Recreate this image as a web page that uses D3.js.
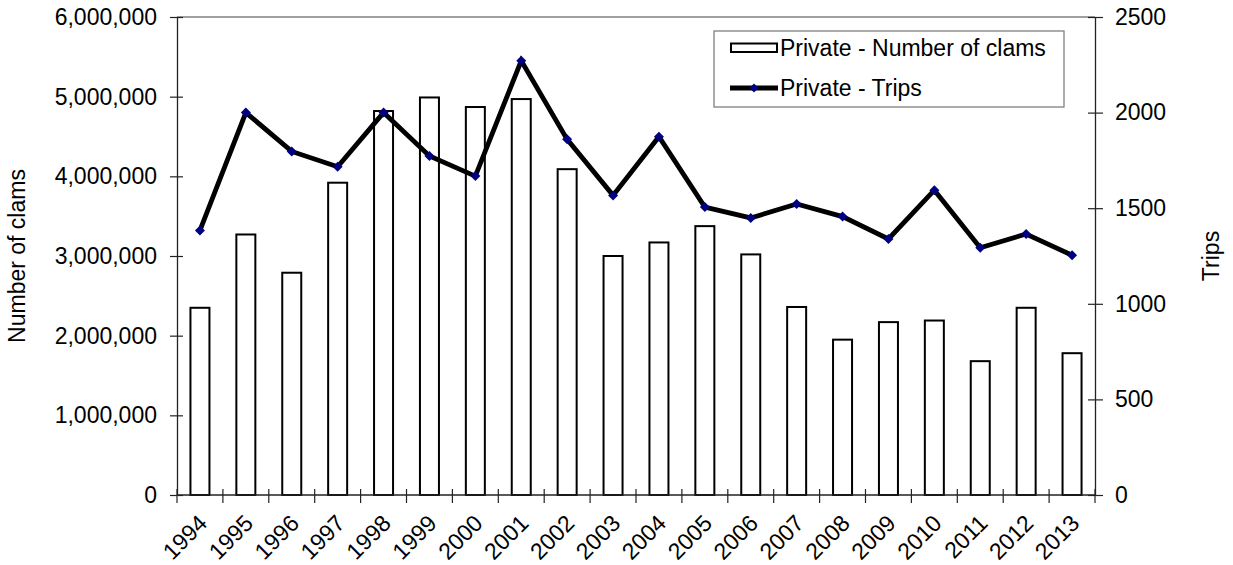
<!DOCTYPE html>
<html>
<head>
<meta charset="utf-8">
<script src="https://cdn.jsdelivr.net/npm/d3@7"></script>
<style>
  html, body { margin: 0; padding: 0; background: #fff; }
  svg { display: block; font-family: Arial, "Liberation Sans", sans-serif; }
</style>
</head>
<body>
<svg id="chart" width="1233" height="565"></svg>
<script>
const years = ["1994","1995","1996","1997","1998","1999","2000","2001","2002","2003","2004","2005","2006","2007","2008","2009","2010","2011","2012","2013"];
const clams = [2350000,3270000,2790000,3920000,4820000,4990000,4870000,4970000,4090000,3000000,3170000,3375000,3020000,2360000,1950000,2170000,2190000,1680000,2350000,1780000];
const trips = [1384,2000,1797,1717,2000,1773,1668,2271,1860,1567,1874,1506,1449,1522,1456,1339,1594,1293,1365,1254];
const leftTicks = [0,1000000,2000000,3000000,4000000,5000000,6000000];
const rightTicks = [0,500,1000,1500,2000,2500];
const seriesNames = ["Private - Number of clams","Private - Trips"];
const axisTitles = ["Number of clams","Trips"];

const W = 1233, H = 565;
const m = {left: 177, right: 138, top: 17, bottom: 70};
const x0 = m.left, x1 = W - m.right, y0 = H - m.bottom, y1 = m.top;
const fs = 23;
const ff = "Arial, 'Liberation Sans', sans-serif";

const svg = d3.select("#chart");

const x = d3.scaleBand().domain(years).range([x0, x1]).paddingInner(0).paddingOuter(0);
const yL = d3.scaleLinear().domain([0, 6000000]).range([y0, y1]);
const yR = d3.scaleLinear().domain([0, 2500]).range([y0, y1]);

// top border of plot area
svg.append("line").attr("x1", x0).attr("x2", x1).attr("y1", y1).attr("y2", y1)
  .attr("stroke", "#808080").attr("stroke-width", 1.3);

// bars
const barW = 19;
svg.append("g").selectAll("rect").data(years).join("rect")
  .attr("x", d => x(d) + x.bandwidth()/2 - barW/2)
  .attr("y", (d,i) => yL(clams[i]))
  .attr("width", barW)
  .attr("height", (d,i) => y0 - yL(clams[i]))
  .attr("fill", "#fff").attr("stroke", "#000").attr("stroke-width", 2);

// left axis
const fmt = d3.format(",");
const gL = svg.append("g").attr("transform", `translate(${x0},0)`)
  .call(d3.axisLeft(yL).tickValues(leftTicks).tickFormat(fmt).tickSize(7).tickSizeOuter(0).tickPadding(13));
gL.select(".domain").attr("stroke", "#222").attr("stroke-width", 1.3);
gL.selectAll(".tick line").attr("x2", 6).attr("x1", -7).attr("stroke", "#222").attr("stroke-width", 1.2);
gL.selectAll(".tick text").attr("font-size", fs).attr("fill", "#000").attr("font-family", ff);

// right axis
const gR = svg.append("g").attr("transform", `translate(${x1},0)`)
  .call(d3.axisRight(yR).tickValues(rightTicks).tickFormat(d3.format("d")).tickSize(8).tickSizeOuter(0).tickPadding(12));
gR.select(".domain").attr("stroke", "#222").attr("stroke-width", 1.3);
gR.selectAll(".tick line").attr("x1", -7).attr("x2", 8).attr("stroke", "#222").attr("stroke-width", 1.2);
gR.selectAll(".tick text").attr("font-size", fs).attr("fill", "#000").attr("font-family", ff);

// bottom axis (ticks at band boundaries)
const gB = svg.append("g").attr("transform", `translate(0,${y0})`);
gB.append("line").attr("x1", x0).attr("x2", x1).attr("stroke", "#222").attr("stroke-width", 1.3);
const bounds = years.map(d => x(d)).concat([x1]);
gB.selectAll("line.tk").data(bounds).join("line").attr("class", "tk")
  .attr("x1", d => d).attr("x2", d => d).attr("y1", -6).attr("y2", 8)
  .attr("stroke", "#222").attr("stroke-width", 1.2);
gB.selectAll("text").data(years).join("text")
  .attr("transform", d => `translate(${x(d) + x.bandwidth()/2 - 3},${18}) rotate(-45)`)
  .attr("text-anchor", "end").attr("dy", "0.72em")
  .attr("font-size", fs).attr("fill", "#000")
  .text(d => d);

// line
const cx = d => x(d) + x.bandwidth()/2;
const line = d3.line().x((d,i) => cx(years[i])).y(d => yR(d));
svg.append("path").datum(trips).attr("d", line)
  .attr("fill", "none").attr("stroke", "#000").attr("stroke-width", 4.8).attr("stroke-linejoin", "miter");
svg.append("g").selectAll("path").data(trips).join("path")
  .attr("d", d3.symbol().type(d3.symbolSquare).size(50))
  .attr("transform", (d,i) => `translate(${cx(years[i])},${yR(d)}) rotate(45)`)
  .attr("fill", "#000080");

// axis titles
svg.append("text").attr("transform", `translate(25,${(y0+y1)/2}) rotate(-90)`)
  .attr("text-anchor", "middle").attr("font-size", fs).attr("fill", "#000").text(axisTitles[0]);
svg.append("text").attr("transform", `translate(1219,${(y0+y1)/2}) rotate(-90)`)
  .attr("text-anchor", "middle").attr("font-size", fs).attr("fill", "#000").text(axisTitles[1]);

// legend
const lg = svg.append("g");
lg.append("rect").attr("x", 714).attr("y", 31).attr("width", 350).attr("height", 76)
  .attr("fill", "#fff").attr("stroke", "#808080").attr("stroke-width", 1.3);
lg.append("rect").attr("x", 731).attr("y", 43.5).attr("width", 46).attr("height", 8.5)
  .attr("fill", "#fff").attr("stroke", "#000").attr("stroke-width", 2);
lg.append("text").attr("x", 780).attr("y", 48).attr("dy", "0.35em").attr("font-size", fs).attr("fill", "#000").text(seriesNames[0]);
lg.append("line").attr("x1", 730).attr("x2", 778).attr("y1", 88).attr("y2", 88).attr("stroke", "#000").attr("stroke-width", 4.8);
lg.append("path").attr("d", d3.symbol().type(d3.symbolSquare).size(40)).attr("transform", "translate(754,88) rotate(45)").attr("fill", "#000080");
lg.append("text").attr("x", 780).attr("y", 88).attr("dy", "0.35em").attr("font-size", fs).attr("fill", "#000").text(seriesNames[1]);
</script>
</body>
</html>
